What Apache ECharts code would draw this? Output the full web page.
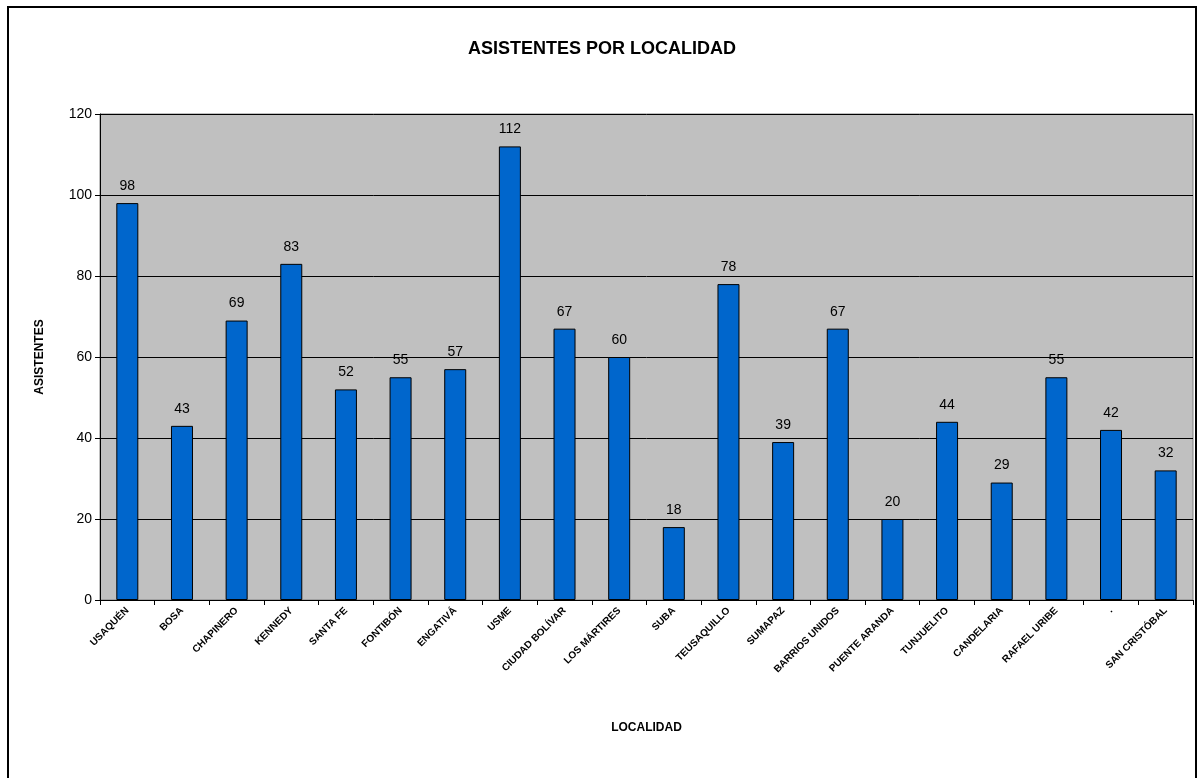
<!DOCTYPE html>
<html><head><meta charset="utf-8">
<script src="https://cdn.jsdelivr.net/npm/echarts@6/dist/echarts.min.js"></script>
<style>html,body{margin:0;padding:0;background:#fff}#c{width:1204px;height:778px}</style>
</head><body><div id="c"></div>
<script>
const categories = ["USAQUÉN","BOSA","CHAPINERO","KENNEDY","SANTA FE","FONTIBÓN","ENGATIVÁ","USME","CIUDAD BOLÍVAR","LOS MÁRTIRES","SUBA","TEUSAQUILLO","SUMAPAZ","BARRIOS UNIDOS","PUENTE ARANDA","TUNJUELITO","CANDELARIA","RAFAEL URIBE",".","SAN CRISTÓBAL"];
const asistentes = [98,43,69,83,52,55,57,112,67,60,18,78,39,67,20,44,29,55,42,32];
const yTicks = {min:0, max:120, interval:20};

const chart = echarts.init(document.getElementById('c'), null, {renderer:'canvas'});
const font = 'Liberation Sans, Arial, sans-serif';
chart.setOption({
  animation:false,
  backgroundColor:'#fff',
  title:{text:'ASISTENTES POR LOCALIDAD', left:'center', top:35,
    textStyle:{fontFamily:font, fontSize:18, fontWeight:'bold', color:'#000'}},
  graphic:[{type:'rect', shape:{x:8,y:7,width:1188,height:790}, style:{fill:'none', stroke:'#000', lineWidth:2}, z:-1}],
  grid:{left:100, right:11, top:114, bottom:178, show:true, backgroundColor:'#C0C0C0', borderColor:'#808080', borderWidth:1},
  xAxis:{type:'category', data:categories, name:'LOCALIDAD', nameLocation:'middle', nameGap:122,
    nameTextStyle:{fontFamily:font, fontSize:12, fontWeight:'bold', color:'#000'},
    axisLine:{lineStyle:{color:'#000', width:1}},
    axisTick:{show:true, alignWithLabel:false, length:5, lineStyle:{color:'#000'}},
    axisLabel:{rotate:45, interval:0, fontFamily:font, fontSize:10, fontWeight:'bold', color:'#000', margin:9}},
  yAxis:{type:'value', min:yTicks.min, max:yTicks.max, interval:yTicks.interval, name:'ASISTENTES', nameLocation:'middle', nameGap:54, nameRotate:90,
    nameTextStyle:{fontFamily:font, fontSize:12, fontWeight:'bold', color:'#000'},
    axisLine:{show:true, lineStyle:{color:'#000'}},
    axisTick:{show:true, length:5, lineStyle:{color:'#000'}},
    axisLabel:{fontFamily:font, fontSize:14, color:'#000', margin:8}},
  series:[{type:'bar', data:asistentes, barWidth:22,
    itemStyle:{color:'#0066CC', borderColor:'#000', borderWidth:1},
    label:{show:true, position:'top', distance:10, fontFamily:font, fontSize:14, color:'#000'}}]
});
chart.setOption({yAxis:{splitLine:{show:true, lineStyle:{color:'#000', width:1}}}});
</script></body></html>
